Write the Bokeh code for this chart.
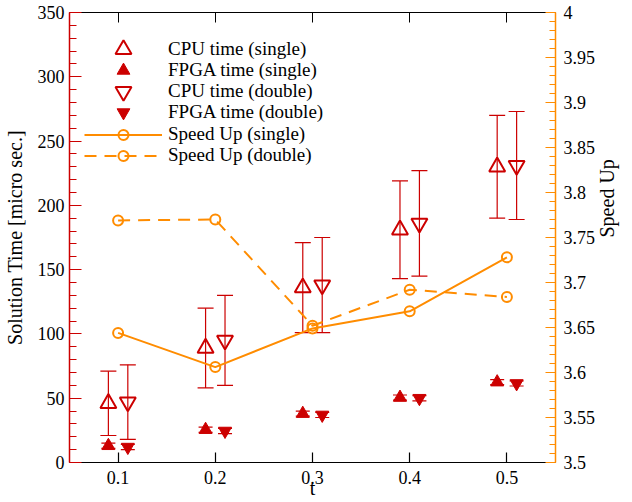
import math
from bokeh.plotting import figure
from bokeh.models import (Range1d, LinearAxis, SingleIntervalTicker, FixedTicker, Whisker,
                          TeeHead, ColumnDataSource, Legend, LegendItem, CustomJSTickFormatter)
from bokeh.transform import dodge
from bokeh.embed import file_html
from bokeh.resources import INLINE

# ---- data ----
t = [0.1, 0.2, 0.3, 0.4, 0.5]
t_labels = ["0.1", "0.2", "0.3", "0.4", "0.5"]
cpu_single = [46, 89, 136, 181, 230]
cpu_single_err = [25, 31, 35, 38, 40]
cpu_double = [47, 95, 138, 186, 231]
cpu_double_err = [29, 35, 37, 41, 42]
fpga_single = [13, 25.5, 38, 50.5, 62.5]
fpga_single_err = [2, 2, 2, 2, 2]
fpga_double = [12, 24.5, 37, 50, 61.5]
fpga_double_err = [2, 2, 2, 2, 2]
speedup_single = [3.644, 3.606, 3.649, 3.668, 3.728]
speedup_double = [3.769, 3.770, 3.652, 3.692, 3.684]

RED = "#cc0000"
ORANGE = "#ff8c00"
FONT = "Liberation Serif"

src = ColumnDataSource(dict(
    t=t,
    cs=cpu_single, cs_lo=[v - e for v, e in zip(cpu_single, cpu_single_err)],
    cs_hi=[v + e for v, e in zip(cpu_single, cpu_single_err)],
    cd=cpu_double, cd_lo=[v - e for v, e in zip(cpu_double, cpu_double_err)],
    cd_hi=[v + e for v, e in zip(cpu_double, cpu_double_err)],
    fs=fpga_single, fs_lo=[v - e for v, e in zip(fpga_single, fpga_single_err)],
    fs_hi=[v + e for v, e in zip(fpga_single, fpga_single_err)],
    fd=fpga_double, fd_lo=[v - e for v, e in zip(fpga_double, fpga_double_err)],
    fd_hi=[v + e for v, e in zip(fpga_double, fpga_double_err)],
    sus=speedup_single, sud=speedup_double,
))

p = figure(width=632, height=502, x_range=Range1d(0.05, 0.55), y_range=Range1d(0, 350),
           output_backend="svg", toolbar_location=None,
           min_border_left=67, min_border_right=73, min_border_top=12, min_border_bottom=40)
p.extra_y_ranges = {"speed": Range1d(3.5, 4.0)}
p.grid.visible = False
p.outline_line_color = None
p.background_fill_color = "white"

# bottom axis
xa = p.xaxis[0]
xa.ticker = FixedTicker(ticks=t, minor_ticks=[])
xa.major_label_overrides = {v: s for v, s in zip(t, t_labels)}
xa.axis_label = "t"
xa.major_tick_in = 10
xa.major_tick_out = 0
xa.minor_tick_in = 0
xa.minor_tick_out = 0
xa.axis_line_color = "black"
xa.major_tick_line_color = "black"
xa.major_label_standoff = 8
xa.axis_label_standoff = -10

# left axis
ya = p.yaxis[0]
ya.ticker = SingleIntervalTicker(interval=50, num_minor_ticks=5)
ya.axis_label = "Solution Time [micro sec.]"
ya.major_tick_in = 12
ya.major_tick_out = 0
ya.minor_tick_in = 7
ya.minor_tick_out = 0
ya.axis_line_color = RED
ya.major_tick_line_color = RED
ya.minor_tick_line_color = RED
ya.axis_line_width = 1.5
ya.major_label_standoff = 5
ya.axis_label_standoff = 9

# right axis
ra = LinearAxis(y_range_name="speed", ticker=SingleIntervalTicker(interval=0.05, num_minor_ticks=5),
                formatter=CustomJSTickFormatter(code="return String(parseFloat(tick.toFixed(2)));"),
                axis_label="Speed Up")
ra.major_tick_in = 10
ra.major_tick_out = 0
ra.minor_tick_in = 6
ra.minor_tick_out = 0
ra.axis_line_color = ORANGE
ra.major_tick_line_color = ORANGE
ra.minor_tick_line_color = ORANGE
ra.axis_line_width = 1.5
ra.major_label_standoff = 8
ra.axis_label_standoff = 9
ra.axis_label_orientation = math.pi / 2
ra.axis_label_text_align = "center"
if "axis_label_align" in ra.properties():
    ra.axis_label_align = "center"
p.add_layout(ra, "right")

# top axis (ticks only)
ta = LinearAxis(ticker=FixedTicker(ticks=t, minor_ticks=[]),
                formatter=CustomJSTickFormatter(code="return '';"))
ta.major_tick_in = 10
ta.major_tick_out = 0
ta.minor_tick_in = 0
ta.minor_tick_out = 0
ta.major_label_text_font_size = "0px"
ta.major_label_standoff = 0
ta.axis_line_color = "black"
ta.major_tick_line_color = "black"
p.add_layout(ta, "above")

for ax in [xa, ya, ra]:
    ax.major_label_text_font = FONT
    ax.major_label_text_font_size = "18px"
    ax.major_label_text_color = "black"
    ax.axis_label_text_font = FONT
    ax.axis_label_text_font_size = "20px"
    ax.axis_label_text_font_style = "normal"
    ax.axis_label_text_color = "black"
    ax.major_tick_line_width = 1.2
    ax.minor_tick_line_width = 1.2

# error bars
xs = dodge("t", -0.01, range=p.x_range)
xd = dodge("t", 0.01, range=p.x_range)
for base, lo, hi, hs in [(xs, "cs_lo", "cs_hi", 16), (xd, "cd_lo", "cd_hi", 16),
                         (xs, "fs_lo", "fs_hi", 14), (xd, "fd_lo", "fd_hi", 14)]:
    w = Whisker(source=src, base=base, lower=lo, upper=hi, line_color=RED, line_width=1.2,
                upper_head=TeeHead(size=hs, line_color=RED, line_width=1.2),
                lower_head=TeeHead(size=hs, line_color=RED, line_width=1.2))
    p.add_layout(w)

# speed-up lines
l_sus = p.line(x="t", y="sus", source=src, y_range_name="speed", line_color=ORANGE, line_width=2)
c_sus = p.scatter(x="t", y="sus", source=src, y_range_name="speed", marker="circle", size=10,
                  fill_color=None, line_color=ORANGE, line_width=2)
l_sud = p.line(x="t", y="sud", source=src, y_range_name="speed", line_color=ORANGE, line_width=2,
               line_dash="12 8")
c_sud = p.scatter(x="t", y="sud", source=src, y_range_name="speed", marker="circle", size=10,
                  fill_color=None, line_color=ORANGE, line_width=2)

# time markers
r_cs = p.scatter(x=xs, y="cs", source=src, marker="triangle", size=16, fill_color=None,
                 line_color=RED, line_width=2)
r_fs = p.scatter(x=xs, y="fs", source=src, marker="triangle", size=13, fill_color=RED,
                 line_color=RED, line_width=1)
r_cd = p.scatter(x=xd, y="cd", source=src, marker="inverted_triangle", size=16, fill_color=None,
                 line_color=RED, line_width=2)
r_fd = p.scatter(x=xd, y="fd", source=src, marker="inverted_triangle", size=13, fill_color=RED,
                 line_color=RED, line_width=1)

# legend (one legend per row so each marker keeps its own size)
FRAME_BOTTOM = 462
rows = [
    ("CPU time (single)", [r_cs], 49, 40),
    ("FPGA time (single)", [r_fs], 70, 32),
    ("CPU time (double)", [r_cd], 91, 40),
    ("FPGA time (double)", [r_fd], 112, 32),
    ("Speed Up (single)", [l_sus, c_sus], 134, 25),
    ("Speed Up (double)", [l_sud, c_sud], 155, 25),
]
for label, rends, cy, gh in rows:
    leg = Legend(items=[LegendItem(label=label, renderers=rends)],
                 location=(15, (FRAME_BOTTOM - cy) - gh / 2),
                 glyph_width=78, glyph_height=gh, label_height=10, label_standoff=6,
                 padding=0, spacing=0, margin=0,
                 border_line_color=None, background_fill_alpha=0,
                 label_text_font=FONT, label_text_font_size="19px", label_text_color="black")
    p.add_layout(leg)

open("out.html", "w").write(file_html(p, INLINE))
